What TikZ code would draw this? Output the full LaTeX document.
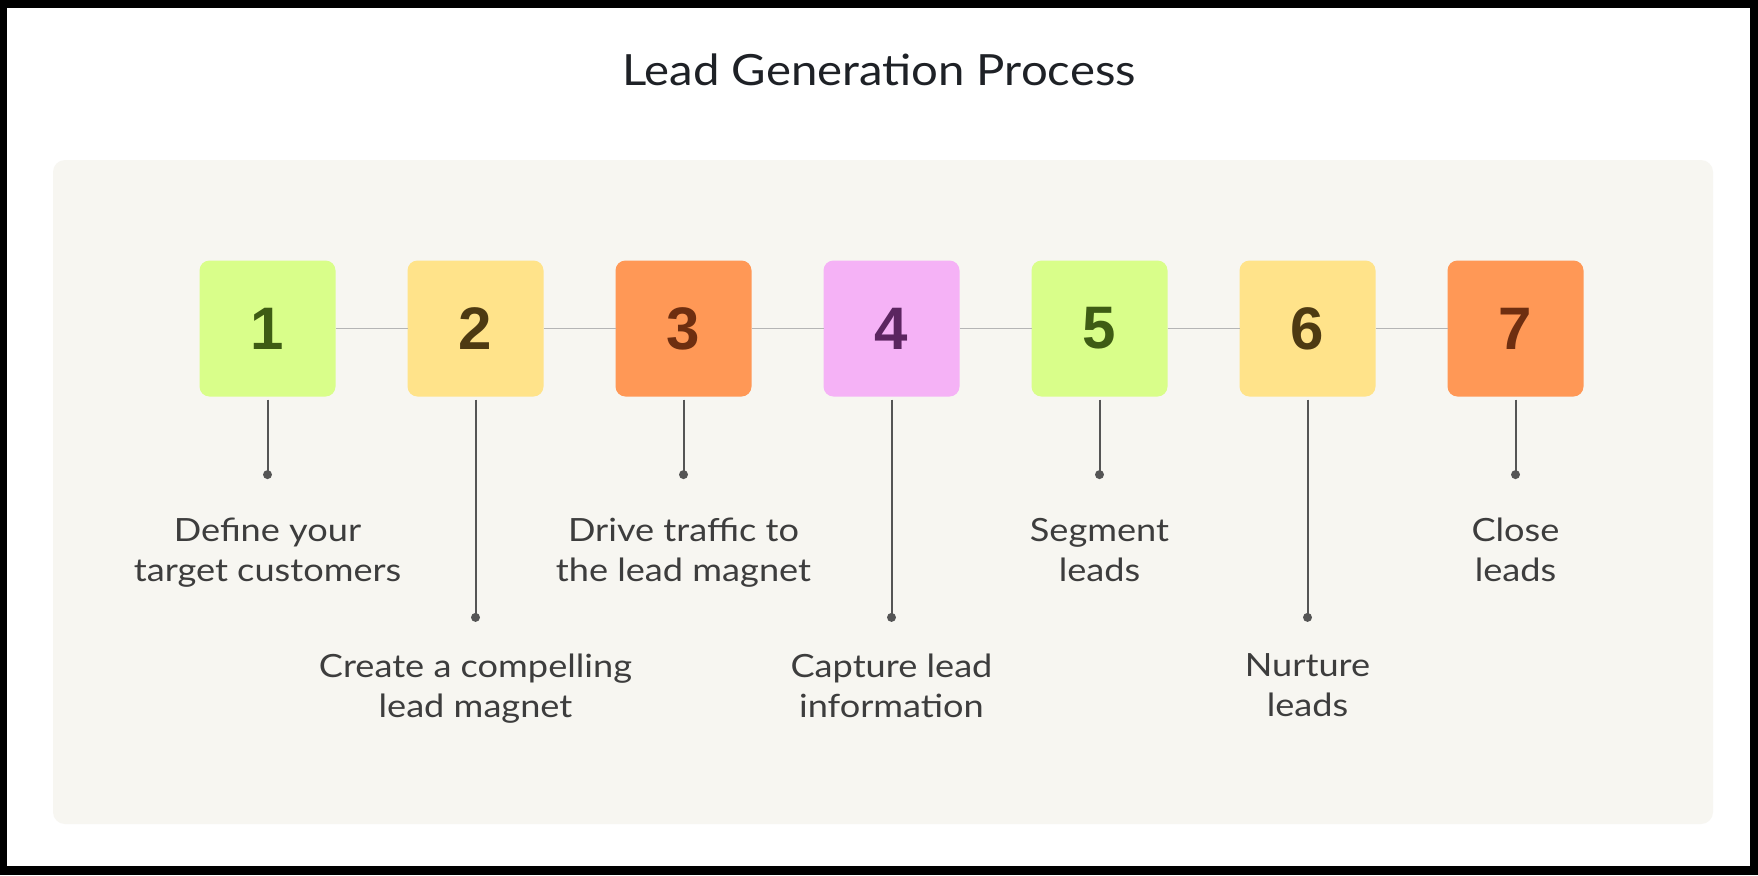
\documentclass[tikz,border=0pt]{standalone}
\usepackage{fontspec}
\setmainfont{Lato}
\newfontfamily\labelfont[FakeStretch=1.13]{Lato}
\newfontfamily\headfont[FakeStretch=1.1]{Lato}
\newfontfamily\numfont{Liberation Sans}
\usetikzlibrary{positioning}
\definecolor{panelbg}{HTML}{F7F6F1}
\definecolor{boxgreen}{HTML}{D9FE8A}
\definecolor{boxyellow}{HTML}{FFE38A}
\definecolor{boxorange}{HTML}{FF9856}
\definecolor{boxpink}{HTML}{F5B2F6}
\definecolor{numgreen}{HTML}{3E5C14}
\definecolor{numyellow}{HTML}{4D3A12}
\definecolor{numorange}{HTML}{6E2E10}
\definecolor{numpink}{HTML}{5B2560}
\definecolor{linkgray}{HTML}{B5B5B5}
\definecolor{stemgray}{HTML}{555555}
\definecolor{labeltext}{HTML}{3D3D3D}
\definecolor{titletext}{HTML}{1E2126}
\tikzset{
  stepbox/.style={rounded corners=5pt, minimum size=68pt, inner sep=0pt, outer sep=0pt, font=\numfont\bfseries\fontsize{30}{30}\selectfont},
  greenbox/.style={stepbox, fill=boxgreen, text=numgreen},
  yellowbox/.style={stepbox, fill=boxyellow, text=numyellow},
  orangebox/.style={stepbox, fill=boxorange, text=numorange},
  pinkbox/.style={stepbox, fill=boxpink, text=numpink},
  link/.style={draw=linkgray, line width=0.8pt},
  stem/.style={draw=stemgray, line width=1pt, shorten <=1.5pt},
  dotmark/.style={circle, fill=stemgray, inner sep=0pt, minimum size=4.5pt},
  steplabel/.style={align=center, inner sep=0pt, text=labeltext, font=\labelfont\fontsize{16}{20}\selectfont}
}

\begin{document}
\begin{tikzpicture}[x=0.5pt, y=-0.5pt]
  % frame and panel
  \useasboundingbox (0,0) rectangle (1758,875);
  \fill[black] (0,0) rectangle (1758,875);
  \fill[white] (7,8) rectangle (1750,866);
  \fill[panelbg, rounded corners=6pt] (53,160) rectangle (1713,824);

  \node[anchor=base, text=titletext, font=\headfont\fontsize{21.5}{24}\selectfont] (title) at (879,85) {Lead Generation Process};

  % step boxes
  \node[greenbox] (s1) at (267.5,328.5) {1};
  \node[yellowbox, right=36pt of s1] (s2) {2};
  \node[orangebox, right=36pt of s2] (s3) {3};
  \node[pinkbox, right=36pt of s3] (s4) {4};
  \node[greenbox, right=36pt of s4] (s5) {5};
  \node[yellowbox, right=36pt of s5] (s6) {6};
  \node[orangebox, right=36pt of s6] (s7) {7};

  \draw[link] (s1) -- (s2);
  \draw[link] (s2) -- (s3);
  \draw[link] (s3) -- (s4);
  \draw[link] (s4) -- (s5);
  \draw[link] (s5) -- (s6);
  \draw[link] (s6) -- (s7);

  % stems with end dots
  \node[dotmark, below=36.6pt of s1] (d1) {};
  \node[dotmark, below=108pt of s2] (d2) {};
  \node[dotmark, below=36.6pt of s3] (d3) {};
  \node[dotmark, below=108pt of s4] (d4) {};
  \node[dotmark, below=36.6pt of s5] (d5) {};
  \node[dotmark, below=108pt of s6] (d6) {};
  \node[dotmark, below=36.6pt of s7] (d7) {};

  \draw[stem] (s1.south) -- (d1.center);
  \draw[stem] (s2.south) -- (d2.center);
  \draw[stem] (s3.south) -- (d3.center);
  \draw[stem] (s4.south) -- (d4.center);
  \draw[stem] (s5.south) -- (d5.center);
  \draw[stem] (s6.south) -- (d6.center);
  \draw[stem] (s7.south) -- (d7.center);

  % labels
  \node[steplabel, below=19pt of d1] (t1) {Define your\\target customers};
  \node[steplabel, below=15.5pt of d2] (t2) {Create a compelling\\lead magnet};
  \node[steplabel, below=19pt of d3] (t3) {Drive traffic to\\the lead magnet};
  \node[steplabel, below=15.5pt of d4] (t4) {Capture lead\\information};
  \node[steplabel, below=19pt of d5] (t5) {Segment\\leads};
  \node[steplabel, below=15.5pt of d6] (t6) {Nurture\\leads};
  \node[steplabel, below=19pt of d7] (t7) {Close\\leads};
\end{tikzpicture}
\end{document}
